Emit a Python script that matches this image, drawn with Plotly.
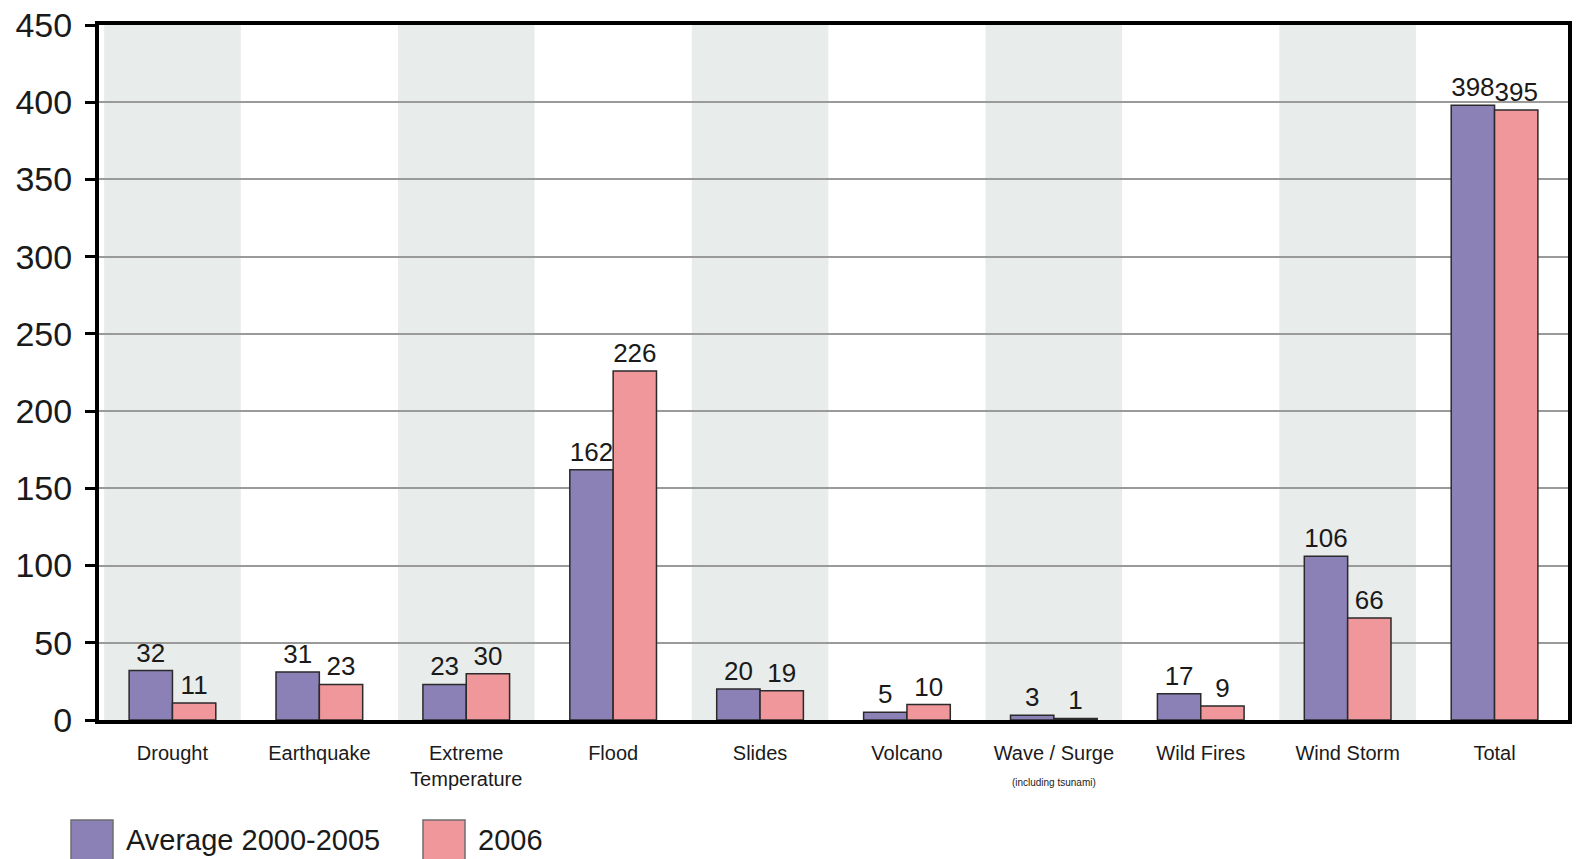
import plotly.graph_objects as go

categories = ["Drought", "Earthquake", "Extreme<br>Temperature", "Flood", "Slides",
              "Volcano", "Wave / Surge<br><span style='font-size:10px'>(including tsunami)</span>",
              "Wild Fires", "Wind Storm", "Total"]
avg_2000_2005 = [32, 31, 23, 162, 20, 5, 3, 17, 106, 398]
y2006 = [11, 23, 30, 226, 19, 10, 1, 9, 66, 395]
series_names = ["Average 2000-2005", "2006"]
y_ticks = [0, 50, 100, 150, 200, 250, 300, 350, 400, 450]
shaded_idx = [0, 2, 4, 6, 8]

PURPLE = "#8B81B7"
PINK = "#F0979C"
BAND = "#E8ECEB"
SANS = "Liberation Sans, Arial, sans-serif"

xs = list(range(len(categories)))

fig = go.Figure()
for name, vals, col in [(series_names[0], avg_2000_2005, PURPLE), (series_names[1], y2006, PINK)]:
    fig.add_trace(go.Bar(
        x=xs, y=vals, name=name,
        marker=dict(color=col, line=dict(color="#2a2a2a", width=1.5)),
        text=[str(v) for v in vals], textposition="outside",
        textfont=dict(family=SANS, size=26, color="#1a1a1a"),
        constraintext="none", cliponaxis=False, showlegend=False,
    ))

shapes = []
for i in shaded_idx:
    shapes.append(dict(type="rect", xref="x", yref="paper", x0=i - 0.465, x1=i + 0.465,
                       y0=0, y1=1, fillcolor=BAND, line=dict(width=0), layer="below"))

# legend drawn manually (large swatches)
L, R, T, B = 99, 10, 25, 139
W = 1578.0 - L - R
H0 = 859.0 - T - B
PB = 859.0 - B
def px(xp): return (xp - L) / W
def py(yp): return (PB - yp) / H0
annotations = []
for (x0, x1, tx, name, col) in [(71, 113, 124, series_names[0], PURPLE), (423, 465, 476, series_names[1], PINK)]:
    shapes.append(dict(type="rect", xref="paper", yref="paper", x0=px(x0), x1=px(x1),
                       y0=py(861), y1=py(820), fillcolor=col,
                       line=dict(color="#6d6d6d", width=1.5)))
    annotations.append(dict(xref="paper", yref="paper", x=px(tx), y=py(840), text=name,
                            showarrow=False, xanchor="left", yanchor="middle",
                            font=dict(family=SANS, size=29, color="#1a1a1a")))

fig.update_layout(
    width=1578, height=859,
    margin=dict(l=L, r=R, t=T, b=B, autoexpand=False),
    paper_bgcolor="white", plot_bgcolor="white",
    barmode="group", bargap=0.41, bargroupgap=0.0,
    shapes=shapes, annotations=annotations,
    showlegend=False,
    xaxis=dict(
        range=[-0.5, len(categories) - 0.5], automargin=False,
        tickmode="array", tickvals=xs, ticktext=categories,
        tickfont=dict(family=SANS, size=20, color="#1a1a1a"),
        showgrid=False, zeroline=False,
        showline=True, linecolor="black", linewidth=4, mirror=True,
        ticks="", ticklabelstandoff=12,
    ),
    yaxis=dict(
        range=[0, 450], tickmode="array", tickvals=y_ticks, automargin=False,
        tickfont=dict(family=SANS, size=34, color="#1a1a1a"),
        showgrid=True, gridcolor="#9a9a9a", gridwidth=2,
        zeroline=False,
        showline=True, linecolor="black", linewidth=4, mirror=True,
        ticks="outside", ticklen=10, tickwidth=3, tickcolor="black",
        ticklabelstandoff=6,
    ),
)

fig.write_html("out.html")
